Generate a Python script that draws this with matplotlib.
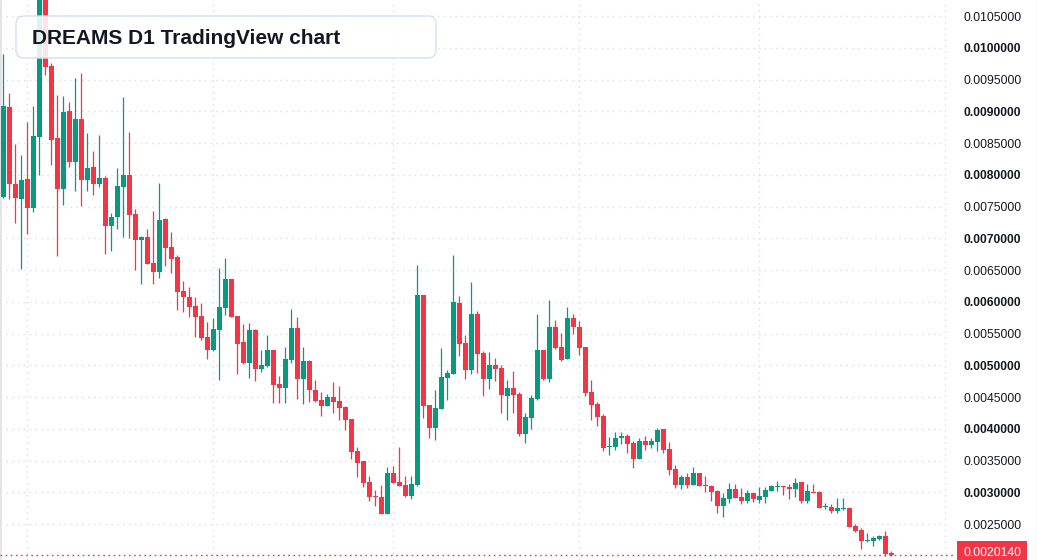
import numpy as np
import pandas as pd
import matplotlib
matplotlib.use("Agg")
import matplotlib.pyplot as plt
from matplotlib.patches import FancyBboxPatch
from matplotlib.transforms import offset_copy

plt.rcParams['font.family'] = ['Liberation Sans', 'DejaVu Sans']

# daily OHLC (price)
opens = [0.007650, 0.009067, 0.007854, 0.007618, 0.007933, 0.007476, 0.008595, 0.010988, 0.009713, 0.008579,
         0.007776, 0.009004, 0.008201, 0.008878, 0.007917, 0.008122, 0.007854, 0.007949, 0.007193, 0.007335,
         0.007807, 0.007996, 0.007382, 0.006972, 0.007020, 0.006610, 0.006468, 0.007303, 0.006862, 0.006705,
         0.006169, 0.006075, 0.005933, 0.005776, 0.005445, 0.005240, 0.005555, 0.005902, 0.006358, 0.005776,
         0.005366, 0.005035, 0.005555, 0.004941, 0.004988, 0.005240, 0.004705, 0.004642, 0.005083, 0.005587,
         0.004784, 0.005067, 0.004610, 0.004453, 0.004358, 0.004500, 0.004437, 0.004343, 0.004154, 0.003650,
         0.003492, 0.003161, 0.002941, 0.002925, 0.002658, 0.003303, 0.003161, 0.003114, 0.002941, 0.003114,
         0.006106, 0.004374, 0.004012, 0.004311, 0.004799, 0.004862, 0.005980, 0.005350, 0.004925, 0.005807,
         0.005193, 0.004784, 0.005004, 0.004957, 0.004516, 0.004642, 0.004547, 0.003917, 0.004169, 0.004469,
         0.005240, 0.004784, 0.005602, 0.005287, 0.005098, 0.005744, 0.005602, 0.005287, 0.004579, 0.004390,
         0.004201, 0.003713, 0.003713, 0.003854, 0.003886, 0.003776, 0.003524, 0.003807, 0.003744, 0.003791,
         0.003996, 0.003681, 0.003366, 0.003114, 0.003240, 0.003114, 0.003303, 0.003114, 0.003098, 0.003020,
         0.002783, 0.002894, 0.003051, 0.002925, 0.002862, 0.002988, 0.002878, 0.002925, 0.003020, 0.003083,
         0.003098, 0.003083, 0.003051, 0.003161, 0.002862, 0.003004, 0.003004, 0.002768, 0.002768, 0.002705,
         0.002736, 0.002752, 0.002469, 0.002406, 0.002232, 0.002232, 0.002264, 0.002311, 0.002043]
highs = [0.009902, 0.009287, 0.008484, 0.008311, 0.008831, 0.009083, 0.011146, 0.011067, 0.009760, 0.009256,
         0.009240, 0.009146, 0.009524, 0.009602, 0.008658, 0.008374, 0.008626, 0.007980, 0.007398, 0.008106,
         0.009224, 0.008673, 0.007461, 0.007035, 0.007146, 0.007429, 0.007870, 0.007319, 0.007098, 0.006736,
         0.006327, 0.006232, 0.006075, 0.005980, 0.005681, 0.005744, 0.006531, 0.006689, 0.006358, 0.005776,
         0.005650, 0.005665, 0.005571, 0.005240, 0.005476, 0.005240, 0.004831, 0.005287, 0.005886, 0.005760,
         0.005287, 0.005083, 0.004768, 0.004579, 0.004547, 0.004736, 0.004673, 0.004358, 0.004154, 0.003713,
         0.003492, 0.003256, 0.003035, 0.003114, 0.003398, 0.003413, 0.003713, 0.003256, 0.003256, 0.006579,
         0.006106, 0.004374, 0.004610, 0.005272, 0.004925, 0.006736, 0.006091, 0.005476, 0.006311, 0.005854,
         0.005224, 0.005209, 0.005114, 0.005004, 0.004768, 0.004909, 0.004579, 0.004248, 0.004532, 0.005807,
         0.005240, 0.006028, 0.005713, 0.005508, 0.005917, 0.005807, 0.005697, 0.005287, 0.004768, 0.004421,
         0.004232, 0.003870, 0.003949, 0.003949, 0.003917, 0.003807, 0.003854, 0.003886, 0.003854, 0.004012,
         0.003996, 0.003791, 0.003429, 0.003272, 0.003303, 0.003398, 0.003303, 0.003256, 0.003114, 0.003035,
         0.002988, 0.003146, 0.003130, 0.003067, 0.003035, 0.002988, 0.003083, 0.003083, 0.003114, 0.003177,
         0.003098, 0.003130, 0.003224, 0.003161, 0.003130, 0.003130, 0.003020, 0.002831, 0.002815, 0.002909,
         0.002909, 0.002768, 0.002500, 0.002437, 0.002358, 0.002311, 0.002327, 0.002390, 0.002075]
lows = [0.007634, 0.007618, 0.007240, 0.006516, 0.007067, 0.007413, 0.007996, 0.009571, 0.008154, 0.006720,
        0.007524, 0.008122, 0.007744, 0.007508, 0.007744, 0.007681, 0.007807, 0.006752, 0.006799, 0.007146,
        0.007020, 0.007004, 0.006500, 0.006280, 0.006594, 0.006280, 0.006374, 0.006563, 0.006453, 0.005870,
        0.005839, 0.005760, 0.005445, 0.005398, 0.005098, 0.005224, 0.004768, 0.005791, 0.005760, 0.004862,
        0.005020, 0.004799, 0.004752, 0.004894, 0.004972, 0.004406, 0.004406, 0.004406, 0.005035, 0.004469,
        0.004390, 0.004421, 0.004421, 0.004201, 0.004358, 0.004248, 0.004138, 0.003980, 0.003524, 0.003240,
        0.003083, 0.002862, 0.002783, 0.002658, 0.002658, 0.003146, 0.003098, 0.002925, 0.002894, 0.003098,
        0.004169, 0.003854, 0.003823, 0.004311, 0.004453, 0.004862, 0.005146, 0.004784, 0.004862, 0.004878,
        0.004516, 0.004626, 0.004752, 0.004248, 0.004138, 0.004248, 0.003886, 0.003776, 0.003996, 0.004453,
        0.004768, 0.004736, 0.005256, 0.005067, 0.005098, 0.005492, 0.005161, 0.004516, 0.004138, 0.004043,
        0.003650, 0.003587, 0.003665, 0.003760, 0.003618, 0.003382, 0.003524, 0.003665, 0.003697, 0.003650,
        0.003618, 0.003272, 0.003067, 0.003051, 0.003067, 0.003114, 0.003098, 0.003004, 0.002862, 0.002673,
        0.002610, 0.002831, 0.002909, 0.002815, 0.002831, 0.002846, 0.002831, 0.002831, 0.003020, 0.003020,
        0.002957, 0.002894, 0.002925, 0.002831, 0.002831, 0.002988, 0.002752, 0.002736, 0.002673, 0.002673,
        0.002720, 0.002453, 0.002374, 0.002106, 0.002217, 0.002154, 0.002248, 0.001996, 0.001996]
closes = [0.009083, 0.007854, 0.007634, 0.007917, 0.007476, 0.008610, 0.010988, 0.009697, 0.008547, 0.007776,
          0.008988, 0.008201, 0.008878, 0.007917, 0.008106, 0.007854, 0.007949, 0.007193, 0.007335, 0.007823,
          0.007996, 0.007366, 0.006972, 0.007020, 0.006594, 0.006468, 0.007287, 0.006846, 0.006673, 0.006154,
          0.006075, 0.005917, 0.005760, 0.005429, 0.005240, 0.005571, 0.005917, 0.006358, 0.005760, 0.005335,
          0.005035, 0.005555, 0.004941, 0.005004, 0.005240, 0.004689, 0.004642, 0.005098, 0.005587, 0.004784,
          0.005067, 0.004610, 0.004437, 0.004358, 0.004500, 0.004421, 0.004327, 0.004138, 0.003634, 0.003461,
          0.003146, 0.002925, 0.002925, 0.002658, 0.003303, 0.003146, 0.003098, 0.002941, 0.003130, 0.006106,
          0.004358, 0.004012, 0.004327, 0.004815, 0.004878, 0.005996, 0.005335, 0.004925, 0.005807, 0.005177,
          0.004784, 0.005004, 0.004941, 0.004532, 0.004642, 0.004532, 0.003917, 0.004185, 0.004484, 0.005240,
          0.004784, 0.005602, 0.005272, 0.005083, 0.005744, 0.005602, 0.005272, 0.004563, 0.004374, 0.004185,
          0.003697, 0.003728, 0.003854, 0.003886, 0.003760, 0.003524, 0.003807, 0.003744, 0.003807, 0.003980,
          0.003665, 0.003350, 0.003114, 0.003240, 0.003114, 0.003303, 0.003098, 0.003098, 0.003004, 0.002783,
          0.002909, 0.003051, 0.002909, 0.002862, 0.002988, 0.002894, 0.002941, 0.003035, 0.003098, 0.003098,
          0.003083, 0.003051, 0.003146, 0.002862, 0.003020, 0.002988, 0.002752, 0.002783, 0.002705, 0.002752,
          0.002752, 0.002453, 0.002390, 0.002232, 0.002248, 0.002280, 0.002311, 0.002028, 0.002014]

last_price = 0.0020140
price_ticks = [0.0025, 0.0030, 0.0035, 0.0040, 0.0045, 0.0050, 0.0055, 0.0060,
               0.0065, 0.0070, 0.0075, 0.0080, 0.0085, 0.0090, 0.0095, 0.0100, 0.0105]
title = "DREAMS D1 TradingView chart"

up_color = '#089981'
down_color = '#f23645'
grid_color = '#dfe2e8'

W, H = 1037, 560
fig = plt.figure(figsize=(W / 100, H / 100), dpi=100)
ax = fig.add_axes([0, 0, 1, 1])

o = np.array(opens); h = np.array(highs); l = np.array(lows); c = np.array(closes)
x = np.arange(len(c))
colors = np.where(c >= o, up_color, down_color)

# month boundaries (daily candles, first bar on 26 Feb)
days = pd.date_range('2024-02-26', periods=175, freq='D')
month_idx = [i for i, d in enumerate(days) if d.day == 1]

ax.set_xlim(-0.583, 172.25)
ax.set_ylim(0.0019331, 0.010752)

plot_edge = 945 / W   # right edge of the pane, price scale beyond
for v in price_ticks:
    ax.axhline(v, xmin=0, xmax=plot_edge, color=grid_color, lw=1.0,
               ls=(0, (1.2, 3)), zorder=0)
for m in month_idx:
    ax.axvline(m, color=grid_color, lw=1.0, ls=(0, (1.2, 3)), zorder=0)

# candles
ax.vlines(x, l, h, colors=colors, lw=0.9, zorder=2)
body_lo = np.minimum(o, c)
body_h = np.maximum(np.abs(c - o), 0.000016)
ax.bar(x, body_h, bottom=body_lo, width=0.78, color=colors, linewidth=0, zorder=3)

# last price line
ax.axhline(last_price, xmin=0, xmax=955 / W, color=down_color, lw=1.0,
           ls=(0, (1.2, 2.5)), zorder=4)

# price scale labels (baseline set half a digit height below the level)
ytr = offset_copy(ax.get_yaxis_transform(), fig=fig, x=0, y=-4.5, units='dots')
for v in price_ticks:
    bold = round(v / 0.0005) % 2 == 0
    ax.text(963 / W, v, f"{v:.7f}", transform=ytr, ha='left', va='baseline',
            fontsize=8.7, color='#131722', fontweight='bold' if bold else 'normal')
# current price tag sits on the bottom edge; nudge text up so it stays inside
ytr_last = offset_copy(ax.get_yaxis_transform(), fig=fig, x=0, y=-1.5, units='dots')
ax.text(963 / W, last_price, f"{last_price:.7f}", transform=ytr_last, ha='left',
        va='baseline', fontsize=8.7, color='white', zorder=6,
        bbox=dict(boxstyle='square,pad=0.5', fc=down_color, ec='none'))

ax.set_xticks([]); ax.set_yticks([])
for s in ['top', 'bottom']:
    ax.spines[s].set_visible(False)
ax.spines['left'].set_color('#e3e3e3'); ax.spines['left'].set_linewidth(2)
ax.spines['right'].set_color('#e0e3eb'); ax.spines['right'].set_linewidth(1)

# title box
box = FancyBboxPatch((0.16, (H - 58) / 100), 4.20, 0.42,
                     boxstyle='round,pad=0,rounding_size=0.08',
                     transform=fig.dpi_scale_trans, fc=(1, 1, 1, 0.88),
                     ec='#d3e1f4', lw=1.0, zorder=5)
fig.add_artist(box)
fig.text(32 / W, 1 - 44 / H, title, fontsize=15, fontweight='bold',
         color='#131722', va='baseline', ha='left', zorder=6)

fig.savefig('out.png', dpi=100)
